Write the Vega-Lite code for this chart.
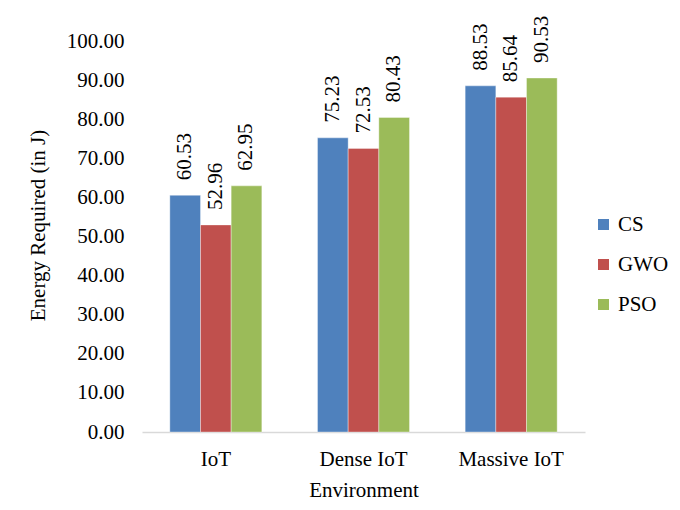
{
  "$schema": "https://vega.github.io/schema/vega-lite/v6.json",
  "width": 443,
  "height": 391,
  "autosize": {"type": "none"},
  "padding": {"left": 142, "top": 41, "right": 95, "bottom": 78},
  "background": "white",
  "config": {
    "font": "Liberation Serif",
    "view": {"stroke": null},
    "text": {"font": "Liberation Serif"},
    "axis": {"grid": false, "ticks": false, "labelColor": "#000000", "titleColor": "#000000", "labelFont": "Liberation Serif", "titleFont": "Liberation Serif", "labelFontSize": 21, "titleFontSize": 21, "titleFontWeight": "normal"},
    "legend": {"labelFont": "Liberation Serif", "labelFontSize": 21, "labelColor": "#000000"}
  },
  "data": {
    "values": [
      {"env": "IoT", "algo": "CS", "energy": 60.53},
      {"env": "IoT", "algo": "GWO", "energy": 52.96},
      {"env": "IoT", "algo": "PSO", "energy": 62.95},
      {"env": "Dense IoT", "algo": "CS", "energy": 75.23},
      {"env": "Dense IoT", "algo": "GWO", "energy": 72.53},
      {"env": "Dense IoT", "algo": "PSO", "energy": 80.43},
      {"env": "Massive IoT", "algo": "CS", "energy": 88.53},
      {"env": "Massive IoT", "algo": "GWO", "energy": 85.64},
      {"env": "Massive IoT", "algo": "PSO", "energy": 90.53}
    ]
  },
  "encoding": {
    "x": {
      "field": "env", "type": "nominal", "sort": ["IoT", "Dense IoT", "Massive IoT"],
      "scale": {"paddingInner": 0.377, "paddingOuter": 0.1885},
      "axis": {"title": "Environment", "labelFont": "Liberation Serif", "titleFont": "Liberation Serif", "labelAngle": 0, "labelPadding": 16, "titlePadding": 10, "domainColor": "#D9D9D9", "domainWidth": 1.5}
    },
    "xOffset": {"field": "algo", "type": "nominal", "sort": ["CS", "GWO", "PSO"], "scale": {"paddingInner": 0, "paddingOuter": 0}},
    "y": {
      "field": "energy", "type": "quantitative",
      "scale": {"domain": [0, 100], "nice": false},
      "axis": {"title": "Energy Required (in J)", "labelFont": "Liberation Serif", "titleFont": "Liberation Serif", "values": [0, 10, 20, 30, 40, 50, 60, 70, 80, 90, 100], "format": ".2f", "domain": false, "labelPadding": 18, "titleAngle": -90, "titleX": -98, "titleY": 184, "titleAlign": "center", "titleBaseline": "alphabetic"}
    }
  },
  "layer": [
    {
      "mark": {"type": "bar", "stroke": "white", "strokeWidth": 0.6, "strokeOpacity": 0.6},
      "encoding": {
        "color": {
          "field": "algo", "type": "nominal", "sort": ["CS", "GWO", "PSO"],
          "scale": {"domain": ["CS", "GWO", "PSO"], "range": ["#4F81BD", "#C0504D", "#9BBB59"]},
          "legend": {"title": null, "orient": "none", "legendX": 451, "legendY": 173, "labelFont": "Liberation Serif", "symbolType": "square", "symbolSize": 121, "symbolStrokeWidth": 0, "labelOffset": 4, "rowPadding": 18, "padding": 0}
        }
      }
    },
    {
      "mark": {"type": "text", "angle": 270, "align": "left", "baseline": "middle", "dx": 15, "fontSize": 21, "color": "#000000", "font": "Liberation Serif"},
      "encoding": {
        "text": {"field": "energy", "type": "quantitative", "format": ".2f"}
      }
    }
  ]
}
